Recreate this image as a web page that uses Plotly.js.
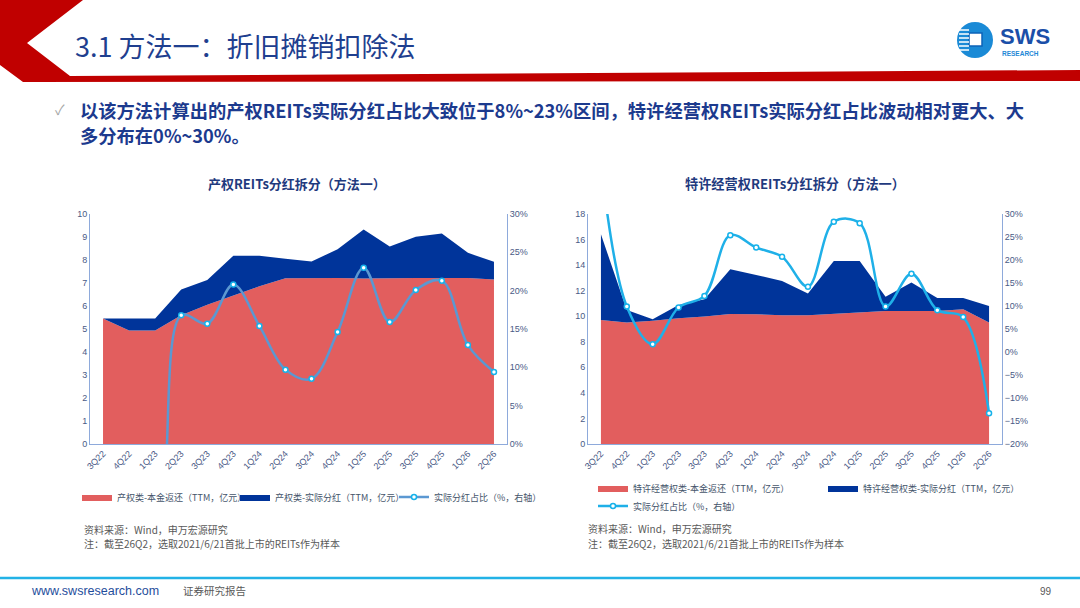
<!DOCTYPE html>
<html>
<head>
<meta charset="utf-8">
<script src="https://cdn.plot.ly/plotly-3.0.1.min.js"></script>
<style>
html, body { margin: 0; padding: 0; background: #fff; }
#chart { width: 1080px; height: 608px; }
</style>
</head>
<body>
<div id="chart"></div>
<script>
var quarters = ['3Q22', '4Q22', '1Q23', '2Q23', '3Q23', '4Q23', '1Q24', '2Q24', '3Q24', '4Q24', '1Q25', '2Q25', '3Q25', '4Q25', '1Q26', '2Q26'];

// 产权类 (亿元 / %)
var propPrincipal = [5.46, 4.93, 4.93, 5.60, 6.05, 6.45, 6.86, 7.21, 7.22, 7.22, 7.20, 7.22, 7.22, 7.22, 7.22, 7.15];
var propDividend = [0.00, 0.53, 0.53, 1.12, 1.08, 1.73, 1.32, 0.84, 0.71, 1.25, 2.13, 1.37, 1.79, 1.93, 1.09, 0.77];
var propRatio = [-16, -14, -12, 16.8, 15.7, 20.8, 15.4, 9.7, 8.5, 14.6, 23.0, 15.9, 20.1, 21.3, 12.9, 9.4];

// 特许经营权类 (亿元 / %)
var concPrincipal = [9.70, 9.50, 9.65, 9.84, 9.97, 10.17, 10.15, 10.07, 10.07, 10.20, 10.30, 10.41, 10.41, 10.41, 10.54, 9.50];
var concDividend = [6.71, 0.99, 0.11, 1.04, 1.35, 3.50, 3.08, 2.69, 1.70, 4.12, 4.02, 1.12, 2.22, 1.02, 0.89, 1.30];
var concRatio = [40.9, 9.9, 1.7, 9.7, 12.2, 25.4, 22.7, 20.7, 14.2, 28.3, 28.0, 9.9, 17.0, 9.1, 7.6, -13.3];

var W = 1080, H = 608;
function px(x) { return x / W; }
function py(y) { return 1 - y / H; }
function poly(pts) {
    return 'M' + pts.map(function (p) { return px(p[0]) + ',' + py(p[1]); }).join('L') + 'Z';
}

var red = '#e25e5e';
var navy = '#00349a';
var cjk = '"Noto Sans CJK SC", "Noto Sans", sans-serif';
var latin = '"Liberation Sans", Arial, sans-serif';
var tickFont = {family: latin, size: 9, color: '#4a5a86'};
var axisColor = '#8eaadb';
var legendFont = {family: cjk, size: 9, color: '#44546a'};

function catAxis(x0, x1, anchor) {
    return {
        domain: [px(x0), px(x1)], anchor: anchor, type: 'category', range: [-0.5, 15.5],
        tickangle: -45, tickfont: tickFont, showline: true, linecolor: axisColor,
        showgrid: false, zeroline: false, ticks: '', fixedrange: true
    };
}
function valAxis(anchor, range, dtick, side, suffix, overlay) {
    var a = {
        anchor: anchor, range: range, dtick: dtick, side: side, ticksuffix: suffix || '',
        tickfont: tickFont, showline: true, linecolor: axisColor, showgrid: false,
        zeroline: false, ticks: '', fixedrange: true
    };
    if (overlay) a.overlaying = overlay; else a.domain = [py(444), py(214)];
    return a;
}
function oneLegend(x, y) {
    return {x: px(x - 5), y: py(y), xanchor: 'left', yanchor: 'middle', orientation: 'h',
        bgcolor: 'rgba(0,0,0,0)', font: legendFont, borderwidth: 0};
}
function ratioLine(y, name, xa, ya, lg, color) {
    return {
        x: quarters, y: y, name: name, type: 'scatter', mode: 'lines+markers',
        line: {shape: 'spline', smoothing: 1, width: 2.5, color: color},
        marker: {symbol: 'circle', size: 5, color: '#ffffff', line: {width: 1.5, color: '#16b2ea'}},
        xaxis: xa, yaxis: ya, legend: lg, hoverinfo: 'skip'
    };
}

var data = [
    {x: quarters, y: propPrincipal, name: '产权类-本金返还（TTM，亿元）', type: 'scatter', mode: 'lines',
        stackgroup: 'prop', line: {width: 0, color: red}, fillcolor: red, xaxis: 'x', yaxis: 'y', legend: 'legend'},
    {x: quarters, y: propDividend, name: '产权类-实际分红（TTM，亿元）', type: 'scatter', mode: 'lines',
        stackgroup: 'prop', line: {width: 0, color: navy}, fillcolor: navy, xaxis: 'x', yaxis: 'y', legend: 'legend2'},
    ratioLine(propRatio, '实际分红占比（%，右轴）', 'x', 'y2', 'legend3', '#5b98d2'),
    {x: quarters, y: concPrincipal, name: '特许经营权类-本金返还（TTM，亿元）', type: 'scatter', mode: 'lines',
        stackgroup: 'conc', line: {width: 0, color: red}, fillcolor: red, xaxis: 'x2', yaxis: 'y3', legend: 'legend4'},
    {x: quarters, y: concDividend, name: '特许经营权类-实际分红（TTM，亿元）', type: 'scatter', mode: 'lines',
        stackgroup: 'conc', line: {width: 0, color: navy}, fillcolor: navy, xaxis: 'x2', yaxis: 'y3', legend: 'legend5'},
    ratioLine(concRatio, '实际分红占比（%，右轴）', 'x2', 'y4', 'legend6', '#1fb0e8')
];

function note(text, x, y, size, color, opts) {
    var a = {text: text, x: px(x), y: py(y), xref: 'paper', yref: 'paper', xanchor: 'left', yanchor: 'middle',
        showarrow: false, font: {family: cjk, size: size, color: color}};
    for (var k in (opts || {})) a[k] = opts[k];
    return a;
}

var annotations = [
    note('3.1 方法一：折旧摊销扣除法', 73, 45, 27, '#1f3f8f'),
    note('✓', 53, 109, 14, '#a6a6a6'),
    note('<b>以该方法计算出的产权REITs实际分红占比大致位于8%~23%区间，特许经营权REITs实际分红占比波动相对更大、大</b>', 78, 110, 18.3, '#1c3a8e'),
    note('<b>多分布在0%~30%。</b>', 78, 135, 18.3, '#1c3a8e'),
    note('<b>产权REITs分红拆分（方法一）</b>', 297, 183, 13, '#1f3a7e', {xanchor: 'center'}),
    note('<b>特许经营权REITs分红拆分（方法一）</b>', 795, 183, 13.2, '#1f3a7e', {xanchor: 'center'}),
    note('资料来源：Wind，申万宏源研究', 82, 529, 10, '#595959'),
    note('注：截至26Q2，选取2021/6/21首批上市的REITs作为样本', 82, 543, 10, '#595959'),
    note('资料来源：Wind，申万宏源研究', 586, 528, 10, '#595959'),
    note('注：截至26Q2，选取2021/6/21首批上市的REITs作为样本', 586, 543, 10, '#595959'),
    note('www.swsresearch.com', 29, 591, 12.5, '#1f4e9c', {font: {family: latin, size: 12.5, color: '#1f4e9c'}}),
    note('证券研究报告', 181, 590, 10.5, '#595959'),
    note('99', 1038, 591, 10, '#595959', {font: {family: latin, size: 10, color: '#595959'}}),
    note('<b>SWS</b>', 998, 36, 22, '#1b4fa8', {font: {family: latin, size: 22, color: '#1b4fa8'}}),
    note('<b>RESEARCH</b>', 1000, 53, 6.5, '#1e88d6', {font: {family: latin, size: 6.5, color: '#1e88d6'}})
];

var shapes = [
    {type: 'path', xref: 'paper', yref: 'paper', line: {width: 0}, fillcolor: '#c00000',
        path: poly([[0, 0], [83, 0], [27, 43], [70, 76], [1080, 70], [1080, 81], [23, 82], [0, 65]])},
    {type: 'circle', xref: 'paper', yref: 'paper', x0: px(957), x1: px(993), y0: py(58), y1: py(22),
        line: {width: 0}, fillcolor: '#1a8ad6'},
    {type: 'rect', xref: 'paper', yref: 'paper', x0: px(969), x1: px(982), y0: py(46), y1: py(33),
        line: {width: 1.5, color: '#0d63b8'}, fillcolor: '#ffffff'},
    {type: 'line', xref: 'paper', yref: 'paper', x0: 0, x1: 1, y0: py(578), y1: py(578),
        line: {width: 2.5, color: '#22b2e6'}}
];
[30, 34, 38, 42, 46, 50].forEach(function (yy) {
    shapes.push({type: 'line', xref: 'paper', yref: 'paper', x0: px(959), x1: px(969), y0: py(yy), y1: py(yy),
        line: {width: 1.5, color: '#ffffff'}});
});

var layout = {
    width: W, height: H, margin: {l: 0, r: 0, t: 0, b: 0},
    paper_bgcolor: '#ffffff', plot_bgcolor: 'rgba(0,0,0,0)',
    showlegend: true, hovermode: false,
    xaxis: catAxis(90, 507, 'y'),
    yaxis: valAxis('x', [0, 10], 1, 'left'),
    yaxis2: valAxis('x', [0, 30], 5, 'right', '%', 'y'),
    xaxis2: catAxis(588, 1002, 'y3'),
    yaxis3: valAxis('x2', [0, 18], 2, 'left'),
    yaxis4: valAxis('x2', [-20, 30], 5, 'right', '%', 'y3'),
    legend: oneLegend(82, 497),
    legend2: oneLegend(240, 497),
    legend3: oneLegend(399, 497),
    legend4: oneLegend(598, 488),
    legend5: oneLegend(828, 488),
    legend6: oneLegend(598, 506),
    annotations: annotations,
    shapes: shapes
};

Plotly.newPlot('chart', data, layout, {displayModeBar: false, staticPlot: true});
</script>
</body>
</html>
